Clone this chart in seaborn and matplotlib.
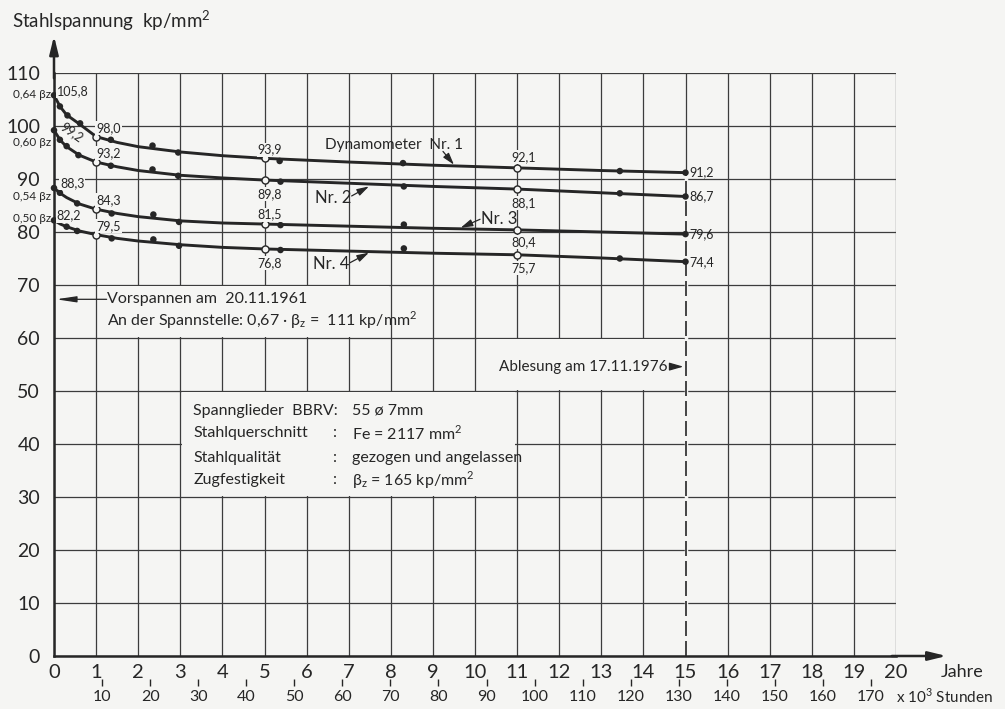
import pandas as pd
import seaborn as sns
import matplotlib.pyplot as plt
from matplotlib.patches import Rectangle

# === Werte ===
jahre_ticks = list(range(0, 21))
stunden_ticks = list(range(10, 180, 10))  # x 10^3 Stunden
spannung_ticks = list(range(0, 120, 10))

# Ausgleichskurven
kurve_jahre = [0, 0.15, 0.3, 0.6, 1, 1.5, 2, 3, 4, 5, 7, 9, 11, 13, 15]
kurve_nr1 = [105.8, 103.6, 102.1, 100.4, 98.0, 96.9, 96.1, 95.1, 94.4, 93.9, 93.2, 92.6, 92.1, 91.6, 91.2]
kurve_nr2 = [99.2, 97.3, 96.1, 94.5, 93.2, 92.3, 91.6, 90.7, 90.2, 89.8, 89.2, 88.6, 88.1, 87.4, 86.7]
kurve_nr3 = [88.3, 87.3, 86.5, 85.3, 84.3, 83.5, 82.9, 82.1, 81.7, 81.5, 81.1, 80.7, 80.4, 80.0, 79.6]
kurve_nr4 = [82.2, 81.5, 81.0, 80.2, 79.5, 78.8, 78.3, 77.6, 77.1, 76.8, 76.4, 76.0, 75.7, 75.1, 74.4]

# Messpunkte (gefüllt)
mess_jahre_nr1 = [0, 0.14, 0.32, 0.62, 1.35, 2.34, 2.95, 5.36, 8.29, 13.44, 15]
mess_nr1 = [105.8, 103.7, 102.0, 100.5, 97.4, 96.3, 95.0, 93.4, 93.0, 91.5, 91.2]
mess_jahre_nr2 = [0, 0.14, 0.3, 0.58, 1.35, 2.34, 2.95, 5.38, 8.31, 13.44, 15]
mess_nr2 = [99.2, 97.4, 96.2, 94.5, 92.5, 91.8, 90.6, 89.5, 88.6, 87.3, 86.7]
mess_jahre_nr3 = [0, 0.14, 0.55, 1.37, 2.36, 2.97, 5.38, 8.31, 15]
mess_nr3 = [88.3, 87.4, 85.4, 83.5, 83.3, 81.9, 81.3, 81.4, 79.6]
mess_jahre_nr4 = [0, 0.3, 0.55, 1.37, 2.36, 2.97, 5.38, 8.31, 13.44, 15]
mess_nr4 = [82.2, 81.0, 80.2, 78.8, 78.6, 77.4, 76.6, 76.9, 75.0, 74.4]

# Messpunkte (offen, beschriftet)
offen_jahre = [1, 5, 11]
offen_nr1 = [98.0, 93.9, 92.1]
offen_nr2 = [93.2, 89.8, 88.1]
offen_nr3 = [84.3, 81.5, 80.4]
offen_nr4 = [79.5, 76.8, 75.7]

beta_labels = ["0,64 βz", "0,60 βz", "0,54 βz", "0,50 βz"]
beta_y = [105.9, 96.9, 86.7, 82.5]


def komma(v):
    return f"{v:.1f}".replace(".", ",")


# === Tabellen ===
kurven = pd.DataFrame({
    "jahre": kurve_jahre * 4,
    "spannung": kurve_nr1 + kurve_nr2 + kurve_nr3 + kurve_nr4,
    "nr": sum([[n] * len(kurve_jahre) for n in [1, 2, 3, 4]], []),
})
mess = pd.DataFrame({
    "jahre": mess_jahre_nr1 + mess_jahre_nr2 + mess_jahre_nr3 + mess_jahre_nr4,
    "spannung": mess_nr1 + mess_nr2 + mess_nr3 + mess_nr4,
})
offen = pd.DataFrame({
    "jahre": offen_jahre * 4,
    "spannung": offen_nr1 + offen_nr2 + offen_nr3 + offen_nr4,
})

# === Stil ===
bg = "#f5f5f3"
ink = "#262626"
sns.set_theme(style="white")
plt.rcParams["font.family"] = ["Lato", "DejaVu Sans"]
plt.rcParams["text.color"] = ink
plt.rcParams["mathtext.fontset"] = "custom"
plt.rcParams["mathtext.rm"] = "Lato"

fig = plt.figure(figsize=(10.05, 7.09), dpi=100, facecolor=bg)
ax = fig.add_axes([54 / 1005, 53 / 709, 842 / 1005, 583 / 709], facecolor=bg)
ax.set_xlim(0, 20)
ax.set_ylim(0, 110)

# Raster
ax.set_xticks(jahre_ticks)
ax.set_yticks(spannung_ticks)
ax.grid(True, color="#3c3c3c", lw=0.9, zorder=0)
ax.set_axisbelow(True)

# ausgesparte Felder für Texte
for x0, y0, w, h in [(1.04, 60.25, 6.92, 9.5), (3.04, 30.25, 7.92, 19.5), (10.04, 50.25, 4.92, 9.5)]:
    ax.add_patch(Rectangle((x0, y0), w, h, fc=bg, ec="none", zorder=1))

# Ablesung: gestrichelte Linie bei 15 Jahren
ax.vlines(15, 0, kurve_nr1[-1], color=bg, lw=2.5, zorder=1.5)
ax.vlines(15, 0, kurve_nr1[-1], color=ink, lw=1.2, linestyles=(0, (9, 3)), zorder=2)

sns.lineplot(data=kurven, x="jahre", y="spannung", units="nr", estimator=None,
             color=ink, lw=2.1, ax=ax, zorder=3)
sns.scatterplot(data=mess, x="jahre", y="spannung", color=ink, s=22,
                edgecolor="none", ax=ax, zorder=4, clip_on=False)
sns.scatterplot(data=offen, x="jahre", y="spannung", color=bg, s=26,
                edgecolor=ink, linewidth=1.0, ax=ax, zorder=5)

# Achsen
for s in ["top", "right"]:
    ax.spines[s].set_visible(False)
for s in ["left", "bottom"]:
    ax.spines[s].set_color(ink)
    ax.spines[s].set_linewidth(1.8)
ax.set_xlabel("")
ax.set_ylabel("")
ax.tick_params(axis="y", length=0, pad=10, labelsize=14, colors=ink)
ax.tick_params(axis="x", length=0, pad=6, labelsize=14.5, colors=ink)

pfeil = dict(arrowstyle="-|>,head_length=0.9,head_width=0.22", color=ink, lw=1.8,
             shrinkA=0, shrinkB=0)
ax.annotate("", xy=(0, 117), xytext=(0, 109), arrowprops=pfeil, annotation_clip=False)
ax.annotate("", xy=(21.2, 0), xytext=(19.9, 0), arrowprops=pfeil, annotation_clip=False)

# Stunden-Achse
sec = ax.secondary_xaxis(-0.039, functions=(lambda x: x * 8.76, lambda h: h / 8.76))
sec.set_xticks(stunden_ticks)
sec.spines["bottom"].set_visible(False)
sec.tick_params(length=5, width=1.0, pad=3, labelsize=11.5, colors=ink, direction="out")

fig.text(12 / 1005, 1 - 21 / 709, r"Stahlspannung  kp/mm$^{\mathregular{2}}$", fontsize=13.5, va="center")
fig.text(941 / 1005, 1 - 672 / 709, "Jahre", fontsize=13, va="center")
fig.text(896 / 1005, 1 - 696 / 709, r"x 10$^{\mathregular{3}}$ Stunden", fontsize=11, va="center")

for lab, y in zip(beta_labels, beta_y):
    ax.text(-0.07, y, lab, fontsize=8.5, ha="right", va="center", clip_on=False)

# Werte an den Punkten
box = dict(boxstyle="square,pad=0.08", fc=bg, ec="none")
fs = 9
for kurve, off in zip([kurve_nr1, kurve_nr2, kurve_nr3, kurve_nr4],
                      [offen_nr1, offen_nr2, offen_nr3, offen_nr4]):
    ax.annotate(komma(kurve[-1]), (15, kurve[-1]), xytext=(3, 0), textcoords="offset points",
                fontsize=fs, ha="left", va="center", zorder=6)
    ax.annotate(komma(off[0]), (1, off[0]), xytext=(0, 2), textcoords="offset points",
                fontsize=fs, ha="left", va="bottom", bbox=box, zorder=6)

for (v, dy) in zip([offen_nr1[1], offen_nr2[1], offen_nr3[1], offen_nr4[1]], [2, -6, 2.5, -6]):
    ax.annotate(komma(v), (5, v), xytext=(4, dy), textcoords="offset points", fontsize=fs,
                ha="center", va="bottom" if dy > 0 else "top", bbox=box, zorder=6)
for (v, dy) in zip([offen_nr1[2], offen_nr2[2], offen_nr3[2], offen_nr4[2]], [3.5, -6, -4.5, -5]):
    ax.annotate(komma(v), (11, v), xytext=(5, dy), textcoords="offset points", fontsize=fs,
                ha="center", va="bottom" if dy > 0 else "top", bbox=box, zorder=6)

ax.text(0.08, 106.6, komma(kurve_nr1[0]), fontsize=fs, ha="left", va="center", bbox=box, zorder=6)
ax.text(0.42, 98.9, komma(kurve_nr2[0]), fontsize=fs, ha="center", va="center", rotation=-35, zorder=6)
ax.text(0.14, 89.2, komma(kurve_nr3[0]), fontsize=fs, ha="left", va="center", bbox=box, zorder=6)
ax.text(0.06, 83.1, komma(kurve_nr4[0]), fontsize=fs, ha="left", va="center", bbox=box, zorder=6)

# Kurvenbezeichnungen
klein = dict(arrowstyle="-|>,head_length=0.6,head_width=0.18", color=ink, lw=0.9,
             shrinkA=0, shrinkB=0)
ax.text(6.43, 96.5, "Dynamometer  Nr. 1", fontsize=11, ha="left", va="center", zorder=6)
ax.annotate("", xy=(9.5, 92.7), xytext=(9.24, 95.2), arrowprops=klein, zorder=6)
ax.text(6.19, 86.5, "Nr. 2", fontsize=12, ha="left", va="center", zorder=6)
ax.annotate("", xy=(7.48, 88.6), xytext=(7.07, 86.8), arrowprops=klein, zorder=6)
ax.text(10.15, 82.4, "Nr. 3", fontsize=12, ha="left", va="center", zorder=6)
ax.annotate("", xy=(9.66, 80.8), xytext=(10.12, 82.4), arrowprops=klein, zorder=6)
ax.text(6.15, 74.0, "Nr. 4", fontsize=12, ha="left", va="center", zorder=6)
ax.annotate("", xy=(7.48, 76.1), xytext=(7.03, 74.2), arrowprops=klein, zorder=6)

# Vorspannen
ax.annotate("", xy=(0.05, 67.3), xytext=(1.25, 67.3),
            arrowprops=dict(arrowstyle="-|>,head_length=1.0,head_width=0.15", color=ink,
                            lw=0.9, shrinkA=0, shrinkB=0), zorder=6)
ax.text(1.27, 67.4, "Vorspannen am  20.11.1961", fontsize=11.5, ha="left", va="center", zorder=6)
ax.text(1.27, 63.4, r"An der Spannstelle: 0,67 · $\mathregular{\beta_z}$ =  111 kp/mm$^{\mathregular{2}}$",
        fontsize=11.5, ha="left", va="center", zorder=6)

# Ablesung
ax.text(14.57, 54.6, "Ablesung am 17.11.1976", fontsize=11, ha="right", va="center", zorder=6)
ax.annotate("", xy=(14.95, 54.6), xytext=(14.65, 54.6),
            arrowprops=dict(arrowstyle="-|>,head_length=0.7,head_width=0.2", color=ink,
                            lw=0.9, shrinkA=0, shrinkB=0), zorder=6)

# Spannglieder-Angaben
zeilen_links = ["Spannglieder  BBRV:", "Stahlquerschnitt", "Stahlqualität", "Zugfestigkeit"]
zeilen_rechts = ["55 ø 7mm", r"Fe = 2117 mm$^{\mathregular{2}}$", "gezogen und angelassen",
                 r"$\mathregular{\beta_z}$ = 165 kp/mm$^{\mathregular{2}}$"]
for i, (l, r, y) in enumerate(zip(zeilen_links, zeilen_rechts, [46.3, 42.0, 37.4, 33.2])):
    ax.text(3.31, y, l, fontsize=11.5, ha="left", va="center", zorder=6)
    if i > 0:
        ax.text(6.63, y, ":", fontsize=11.5, ha="left", va="center", zorder=6)
    ax.text(7.07, y, r, fontsize=11.5, ha="left", va="center", zorder=6)

plt.savefig("out.png", dpi=100, facecolor=bg)
